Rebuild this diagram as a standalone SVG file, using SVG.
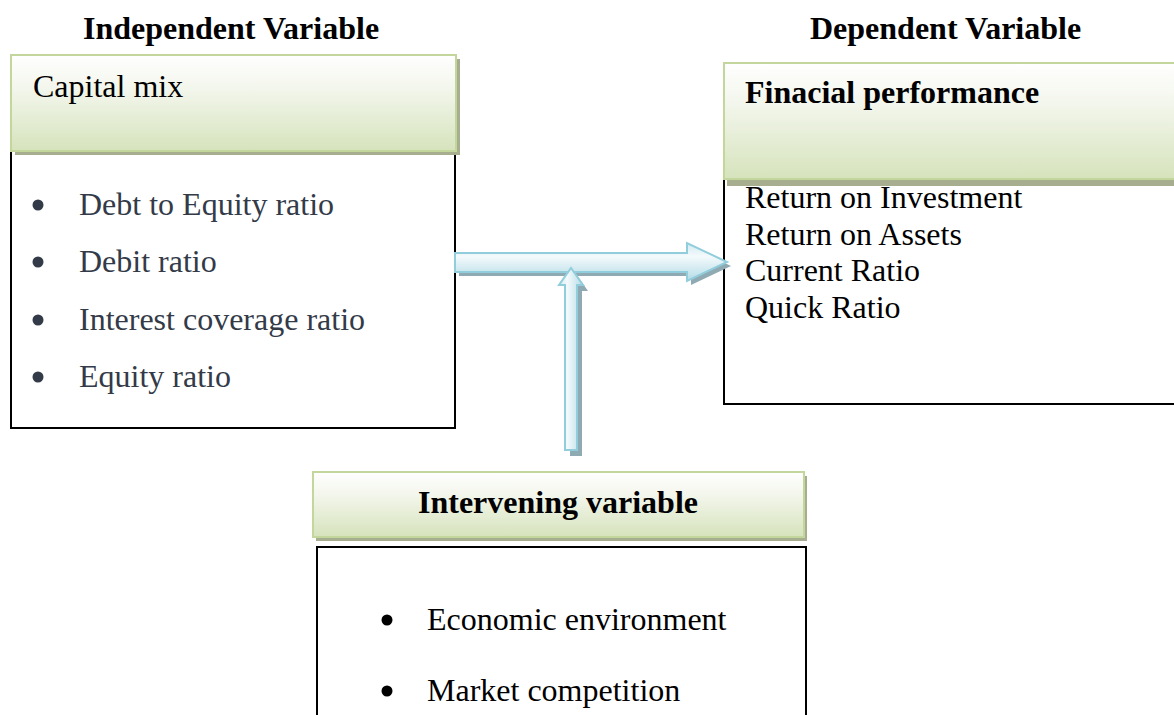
<svg xmlns="http://www.w3.org/2000/svg" width="1174" height="715" viewBox="0 0 1174 715">
<defs>
<linearGradient id="hdr" x1="0" y1="0" x2="0" y2="1">
<stop offset="0" stop-color="#ffffff"/>
<stop offset="0.35" stop-color="#f3f6ec"/>
<stop offset="1" stop-color="#d6e3bc"/>
</linearGradient>
<linearGradient id="ah" x1="0" y1="0" x2="0" y2="1">
<stop offset="0" stop-color="#cfe9f0"/>
<stop offset="0.35" stop-color="#f4fafc"/>
<stop offset="1" stop-color="#b3dbe6"/>
</linearGradient>
<linearGradient id="av" x1="0" y1="0" x2="1" y2="0">
<stop offset="0" stop-color="#d2ebf2"/>
<stop offset="0.35" stop-color="#f4fafc"/>
<stop offset="1" stop-color="#b3dbe6"/>
</linearGradient>
<style>
.hdr{fill:url(#hdr);stroke:#c3d69b;stroke-width:2}
.hsh{fill:#a6ae8f}
.box{fill:#ffffff;stroke:#000000;stroke-width:2}
.t{font-family:"Liberation Serif","Times New Roman",serif;font-size:32px;fill:#000}
.b{font-weight:bold}
.g{fill:#333a48}
.ash{fill:#8faab3}
.arh{fill:url(#ah);stroke:#92cddc;stroke-width:2}
.arv{fill:url(#av);stroke:#92cddc;stroke-width:2}
</style>
</defs>
<rect width="1174" height="715" fill="#ffffff"/>
<g id="titles">
<text class="t b" x="83" y="39">Independent Variable</text>
<text class="t b" x="810" y="39">Dependent Variable</text>
</g>
<g id="independent">
<rect class="box" x="11" y="112" width="444" height="316"/>
<rect class="hsh" x="15" y="59" width="445" height="96"/>
<rect class="hdr" x="11" y="55" width="445" height="96"/>
<text class="t" x="33" y="97">Capital mix</text>
<g class="g">
<circle cx="38" cy="205" r="5.5"/>
<circle cx="38" cy="262" r="5.5"/>
<circle cx="38" cy="320" r="5.5"/>
<circle cx="38" cy="377" r="5.5"/>
</g>
<text class="t g" x="79" y="215">Debt to Equity ratio</text>
<text class="t g" x="79" y="272">Debit ratio</text>
<text class="t g" x="79" y="330">Interest coverage ratio</text>
<text class="t g" x="79" y="387">Equity ratio</text>
</g>
<g id="dependent">
<rect class="box" x="724" y="120" width="470" height="284"/>
<rect class="hsh" x="727" y="67" width="470" height="119"/>
<rect class="hdr" x="724" y="63" width="470" height="116"/>
<text class="t b" x="745" y="103">Finacial performance</text>
<text class="t" x="745" y="208">Return on Investment</text>
<text class="t" x="745" y="245">Return on Assets</text>
<text class="t" x="745" y="281">Current Ratio</text>
<text class="t" x="745" y="318">Quick Ratio</text>
</g>
<g id="intervening">
<rect class="box" x="317" y="547" width="489" height="200"/>
<rect class="hsh" x="316" y="476" width="491" height="65"/>
<rect class="hdr" x="313" y="472" width="491" height="65"/>
<text class="t b" x="558" y="513" text-anchor="middle">Intervening variable</text>
<circle cx="387" cy="620" r="5.5"/>
<circle cx="387" cy="691" r="5.5"/>
<text class="t" x="427" y="630">Economic environment</text>
<text class="t" x="427" y="701">Market competition</text>
</g>
<g id="connectors">
<polygon class="ash" points="459,257 691,257 691,247 731,266 691,285 691,276 459,276"/>
<polygon class="arh" points="455,253 687,253 687,243 727,262 687,281 687,272 455,272"/>
<polygon class="ash" points="570,456 570,291 564,291 576,274 588,291 582,291 582,456"/>
<polygon class="arv" points="565,450 565,285 559,285 571,268 583,285 577,285 577,450"/>
</g>
</svg>
